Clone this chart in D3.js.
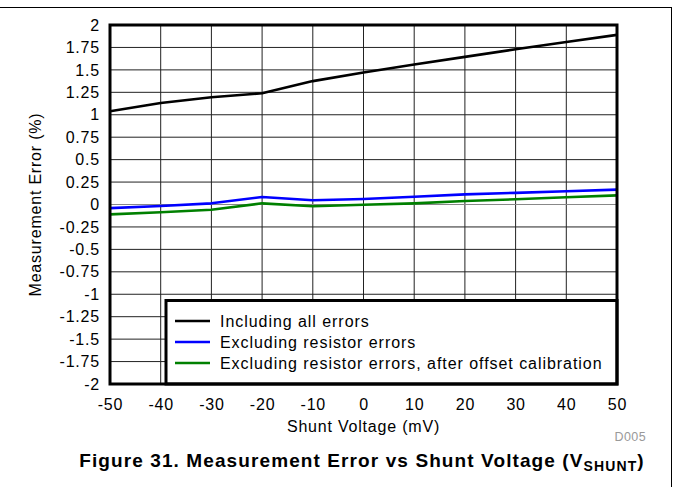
<!DOCTYPE html>
<html>
<head>
<meta charset="utf-8">
<script src="https://cdn.jsdelivr.net/npm/d3@7"></script>
<style>
  html, body { margin: 0; padding: 0; background: #fff; }
  svg { display: block; font-family: "Liberation Sans", Arial, sans-serif; }
</style>
</head>
<body>
<svg id="chart" width="673" height="487"></svg>
<script>
// ---- data ----
const shuntVoltage = [-50, -40, -30, -20, -10, 0, 10, 20, 30, 40, 50];
const includingAll = [1.04, 1.13, 1.195, 1.24, 1.375, 1.47, 1.56, 1.645, 1.73, 1.81, 1.89];
const excludingResistor = [-0.04, -0.017, 0.013, 0.084, 0.047, 0.061, 0.087, 0.113, 0.13, 0.148, 0.166];
const excludingAfterCal = [-0.11, -0.087, -0.058, 0.013, -0.02, -0.002, 0.013, 0.039, 0.058, 0.08, 0.102];
const seriesNames = ["Including all errors", "Excluding resistor errors", "Excluding resistor errors, after offset calibration"];
const seriesColors = ["#000000", "#0000ff", "#008000"];
const xTicks = [-50, -40, -30, -20, -10, 0, 10, 20, 30, 40, 50];
const yTicks = [-2, -1.75, -1.5, -1.25, -1, -0.75, -0.5, -0.25, 0, 0.25, 0.5, 0.75, 1, 1.25, 1.5, 1.75, 2];

const FS = 16, LS = 0.8;
const svg = d3.select("#chart");
const plot = { left: 110, right: 617, top: 25, bottom: 384 };

const x = d3.scaleLinear().domain([-50, 50]).range([plot.left, plot.right]);
const y = d3.scaleLinear().domain([-2, 2]).range([plot.bottom, plot.top]);

// outer figure frame (top and right)
svg.append("line").attr("x1", 0).attr("x2", 671.5).attr("y1", 7.5).attr("y2", 7.5)
  .attr("stroke", "#000").attr("stroke-width", 1);
svg.append("line").attr("x1", 671.5).attr("x2", 671.5).attr("y1", 7).attr("y2", 487)
  .attr("stroke", "#000").attr("stroke-width", 1);

// grid
const grid = svg.append("g");
grid.selectAll("line.v").data(xTicks).enter().append("line")
  .attr("x1", d => x(d)).attr("x2", d => x(d))
  .attr("y1", plot.top).attr("y2", plot.bottom)
  .attr("stroke", "#222").attr("stroke-width", 1);
grid.selectAll("line.h").data(yTicks).enter().append("line")
  .attr("x1", plot.left).attr("x2", plot.right)
  .attr("y1", d => y(d)).attr("y2", d => y(d))
  .attr("stroke", d => d === 0 ? "#888" : "#222").attr("stroke-width", 1);

// axes labels via d3 axes
const yAxis = svg.append("g").attr("transform", `translate(${plot.left},0)`)
  .call(d3.axisLeft(y).tickValues(yTicks).tickSize(0).tickPadding(10).tickFormat(d => String(d)));
yAxis.select(".domain").remove();
yAxis.selectAll("text").attr("font-size", FS).attr("fill", "#000").attr("letter-spacing", LS)
  .attr("font-family", "Liberation Sans, Arial, sans-serif");

const xAxis = svg.append("g").attr("transform", `translate(0,${plot.bottom})`)
  .call(d3.axisBottom(x).tickValues(xTicks).tickSize(0).tickPadding(15).tickFormat(d => String(d)));
xAxis.select(".domain").remove();
xAxis.selectAll("text").attr("font-size", FS).attr("fill", "#000").attr("letter-spacing", LS)
  .attr("font-family", "Liberation Sans, Arial, sans-serif");

// lines
const allSeries = [includingAll, excludingResistor, excludingAfterCal];
const lineGen = d3.line().x((d, i) => x(shuntVoltage[i])).y(d => y(d));
allSeries.forEach((s, k) => {
  svg.append("path").datum(s).attr("d", lineGen)
    .attr("fill", "none").attr("stroke", seriesColors[k])
    .attr("stroke-width", 2.6).attr("stroke-linejoin", "round");
});

// legend
const lg = svg.append("g");
lg.append("rect").attr("x", 166).attr("y", 300.5).attr("width", plot.right - 166).attr("height", plot.bottom - 300.5)
  .attr("fill", "#fff").attr("stroke", "#000").attr("stroke-width", 3);
const rowY = [321, 342, 363];
seriesNames.forEach((n, k) => {
  lg.append("line").attr("x1", 175).attr("x2", 210).attr("y1", rowY[k]).attr("y2", rowY[k])
    .attr("stroke", seriesColors[k]).attr("stroke-width", 2.6);
  lg.append("text").attr("x", 220).attr("y", rowY[k] + 6).attr("font-size", FS)
    .attr("letter-spacing", 0.95).text(n);
});

// plot frame
svg.append("rect").attr("x", plot.left).attr("y", plot.top)
  .attr("width", plot.right - plot.left).attr("height", plot.bottom - plot.top)
  .attr("fill", "none").attr("stroke", "#000").attr("stroke-width", 3);

// axis titles
svg.append("text").attr("x", (plot.left + plot.right) / 2).attr("y", 432)
  .attr("text-anchor", "middle").attr("font-size", FS).attr("letter-spacing", LS).text("Shunt Voltage (mV)");
svg.append("text").attr("transform", `translate(41,${(plot.top + plot.bottom) / 2}) rotate(-90)`)
  .attr("text-anchor", "middle").attr("font-size", FS).attr("letter-spacing", LS).text("Measurement Error (%)");

// D005 tag
svg.append("text").attr("x", 646).attr("y", 441).attr("text-anchor", "end")
  .attr("font-size", 12.5).attr("fill", "#999").attr("letter-spacing", 0.4).text("D005");

// figure caption
const cap = svg.append("text").attr("x", 362).attr("y", 467).attr("text-anchor", "middle")
  .attr("font-size", 19).attr("font-weight", "bold").attr("letter-spacing", 1.1);
cap.append("tspan").text("Figure 31. Measurement Error vs Shunt Voltage (V");
cap.append("tspan").attr("font-size", 14).attr("dy", 4).text("SHUNT");
cap.append("tspan").attr("dy", -4).text(")");
</script>
</body>
</html>
